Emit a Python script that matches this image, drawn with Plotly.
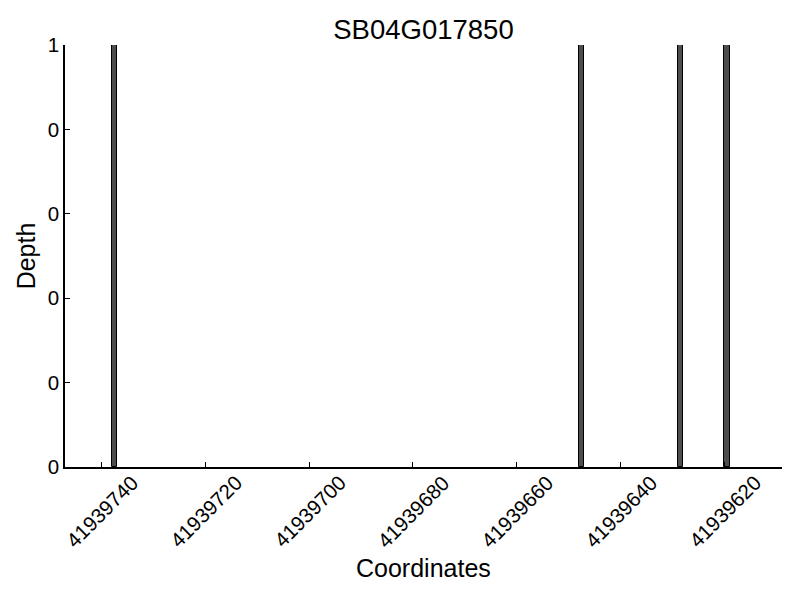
import plotly.graph_objects as go

coords = [41939737, 41939647, 41939628, 41939619]
depth = [1, 1, 1, 1]
x_ticks = [41939740, 41939720, 41939700, 41939680, 41939660, 41939640, 41939620]
y_ticks = [0, 0.2, 0.4, 0.6, 0.8, 1.0]
y_labels = ["0", "0", "0", "0", "0", "1"]

fig = go.Figure()
fig.add_trace(go.Bar(
    x=coords, y=depth, width=1, offset=0,
    marker=dict(color="#4d4d4d", line=dict(color="black", width=1)),
))
font = "Liberation Sans, Arial, sans-serif"
fig.update_layout(
    width=800, height=600,
    margin=dict(l=57, r=26, t=37, b=141, autoexpand=False),
    plot_bgcolor="white", paper_bgcolor="white",
    showlegend=False,
    font=dict(family=font, color="black"),
    title=dict(text="SB04G017850", x=0.5, xref="paper", xanchor="center",
               y=1 - 21 / 600, yref="container", yanchor="middle",
               font=dict(size=27.5)),
    bargap=0,
)
# rotated tick labels centred under their ticks
for v in x_ticks:
    fig.add_annotation(x=v, xref="x", y=0, yref="paper", text=str(v),
                       textangle=-45, showarrow=False, xanchor="center",
                       yanchor="middle", yshift=-44, font=dict(size=20.5))
fig.add_annotation(x=0.5, xref="paper", y=0, yref="paper", text="Coordinates",
                   showarrow=False, xanchor="center", yanchor="middle",
                   yshift=-101, font=dict(size=25))
fig.update_xaxes(
    range=[41939747.05, 41939608.9],
    tickvals=x_ticks, showticklabels=False,
    ticks="inside", ticklen=5, tickcolor="black",
    showline=True, linecolor="black", linewidth=1.5,
    showgrid=False, zeroline=False, automargin=False,
)
fig.update_yaxes(
    range=[0, 1],
    tickvals=y_ticks, ticktext=y_labels,
    tickfont=dict(size=20.5),
    ticks="inside", ticklen=5, tickcolor="black",
    showline=True, linecolor="black", linewidth=1.5,
    showgrid=False, zeroline=False, automargin=False,
    title=dict(text="Depth", font=dict(size=25), standoff=5),
)
fig.write_html("out.html")
